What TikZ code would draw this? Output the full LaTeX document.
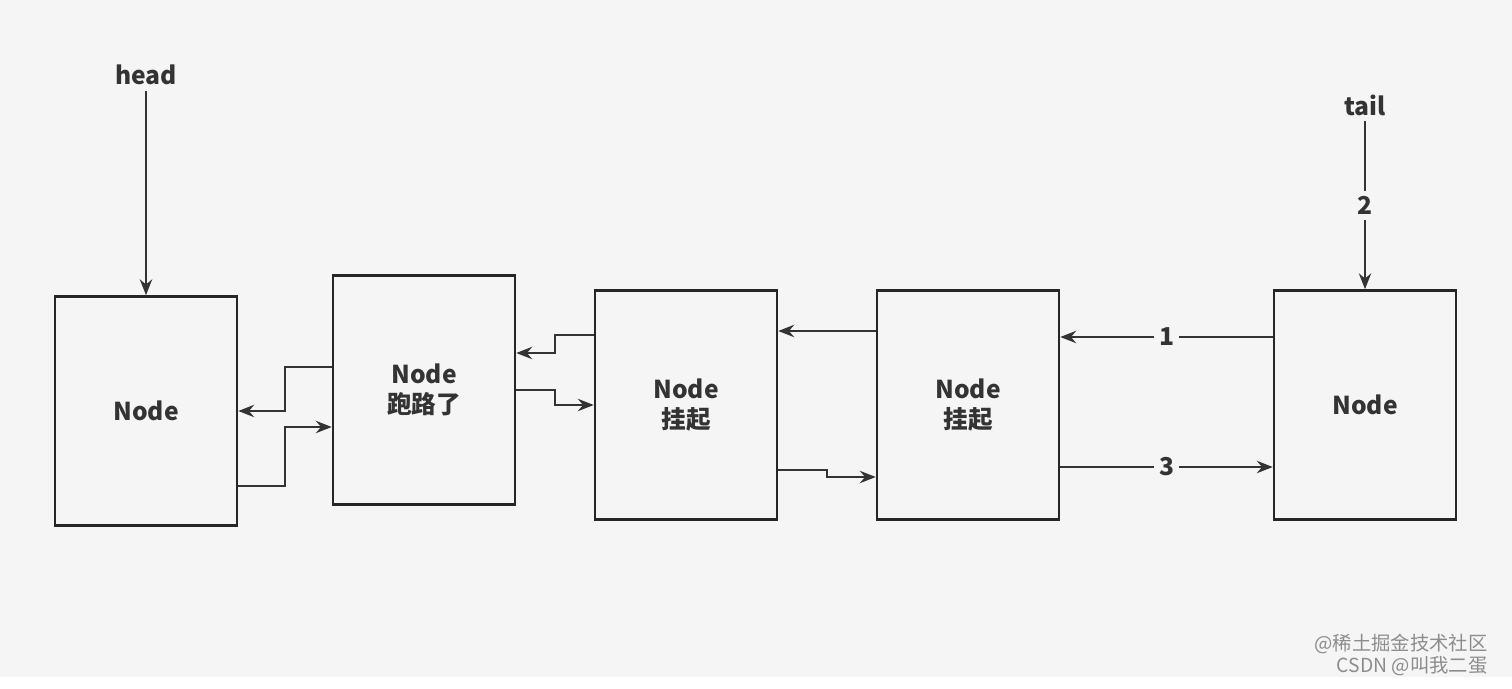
\documentclass[tikz,border=0pt]{standalone}
\usepackage{fontspec}
\setmainfont{Noto Sans CJK SC}
\usetikzlibrary{arrows.meta}
\begin{document}
\begin{tikzpicture}[x=0.01cm,y=-0.01cm,
  box/.style={draw=black!85,line width=0.7pt,minimum width=1.82cm,minimum height=2.29cm,inner sep=0pt,align=center,text=black!80,font=\fontsize{7}{8.5}\selectfont\bfseries},
  lbl/.style={font=\fontsize{7}{8.5}\selectfont\bfseries,text=black!80,inner sep=1.5pt},
  link/.style={draw=black!80,line width=0.6pt,-{Stealth[length=4.5pt,width=3.5pt]}}]
\fill[black!4] (0,0) rectangle (1512,677);
\node (n1) at (146,411) [box] {Node};
\node (n2) at (424,390) [box] {Node\\跑路了};
\node (n3) at (686,405) [box] {Node\\挂起};
\node (n4) at (968,405) [box] {Node\\挂起};
\node (n5) at (1365,405) [box] {Node};
\node (head) at (146,75) [lbl] {head};
\node (tail) at (1365,105) [lbl] {tail};
\path[link] (head) -- (n1);
\path[link] (tail) -- node[fill=black!4,lbl] {2} (n5);
\path[link] (n2.west |- 0,367) -| (285,411) -- (n1.east |- 0,411);
\path[link] (n1.east |- 0,486) -| (285,427) -- (n2.west |- 0,427);
\path[link] (n3.west |- 0,335) -| (555,353) -- (n2.east |- 0,353);
\path[link] (n2.east |- 0,390) -| (555,405) -- (n3.west |- 0,405);
\path[link] (n4.west |- 0,331) -- (n3.east |- 0,331);
\path[link] (n3.east |- 0,470) -| (827,477) -- (n4.west |- 0,477);
\path[link] (n5.west |- 0,337) -- node[fill=black!4,lbl] {1} (n4.east |- 0,337);
\path[link] (n4.east |- 0,467) -- node[fill=black!4,lbl] {3} (n5.west |- 0,467);
\node (mark) at (1500,655) [anchor=east,align=right,text=black!45,font=\fontsize{5.5}{6.5}\selectfont] {@稀土掘金技术社区\\CSDN @叫我二蛋};
\end{tikzpicture}
\end{document}
